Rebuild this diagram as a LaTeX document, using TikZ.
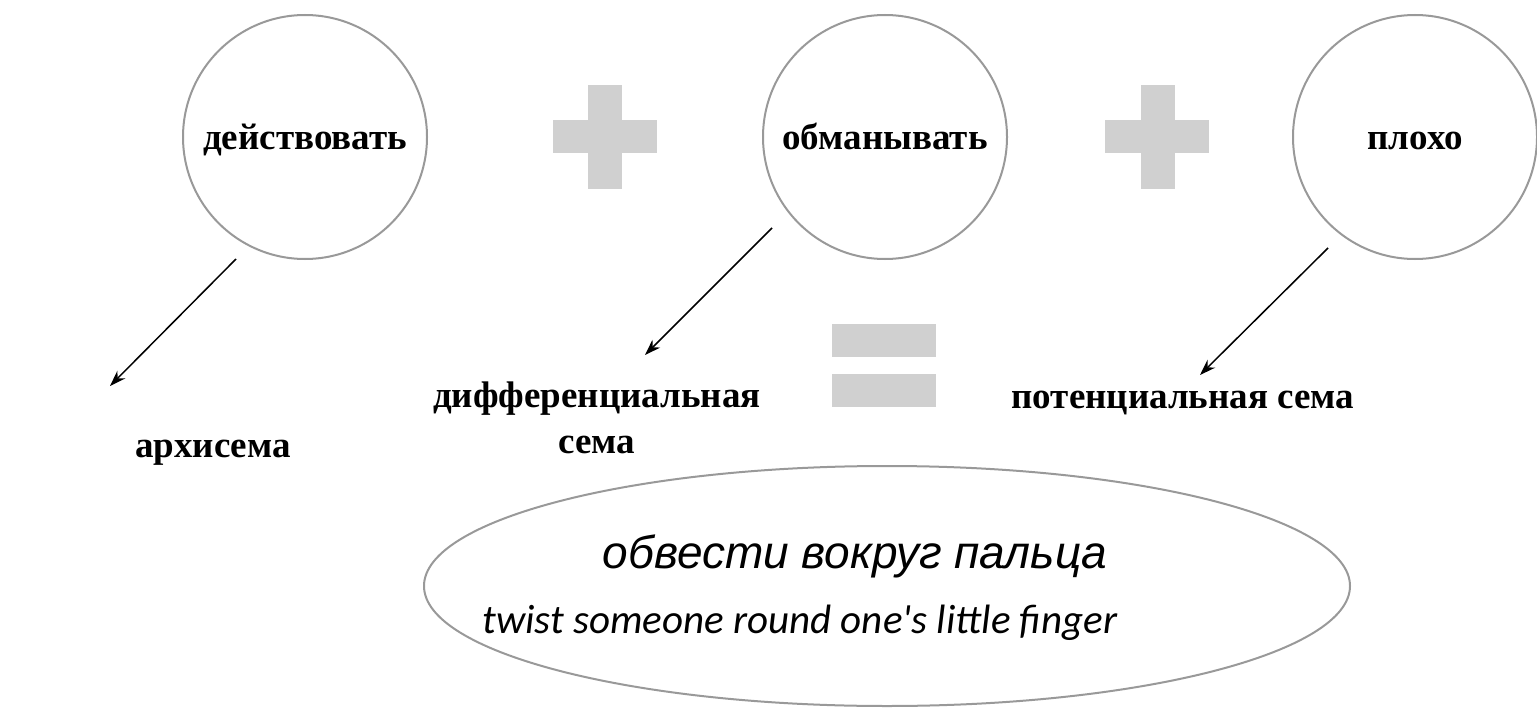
\documentclass[tikz,border=0pt]{standalone}
\usepackage{fontspec}
\setmainfont{Liberation Serif}
\newfontfamily\arialfont{Liberation Sans}
\newfontfamily\calfont{Carlito}
\usetikzlibrary{arrows.meta,shapes.geometric}
\definecolor{ringgray}{HTML}{999999}
\definecolor{signgray}{HTML}{D0D0D0}
\tikzset{
  ring/.style={circle, draw=ringgray, line width=2pt, minimum size=244pt, inner sep=0pt,
    text height=30pt, text depth=6pt,
    font=\fontsize{37}{44}\selectfont\bfseries},
  lbl/.style={anchor=base, inner sep=0pt, font=\fontsize{37}{44}\selectfont\bfseries},
  hbar/.style={fill=signgray, draw=none, minimum width=104pt, minimum height=33pt, inner sep=0pt},
  vbar/.style={fill=signgray, draw=none, minimum width=34pt, minimum height=104pt, inner sep=0pt},
  eqbar/.style={fill=signgray, draw=none, minimum width=104pt, minimum height=33pt, inner sep=0pt},
  arr/.style={draw=black, line width=1.5pt, -{Stealth[length=16pt,width=11pt]}},
  oval/.style={ellipse, draw=ringgray, line width=2pt, minimum width=926pt, minimum height=240pt, inner sep=0pt},
}
\begin{document}
\begin{tikzpicture}[x=1pt,y=-1pt]
\useasboundingbox (0,0) rectangle (1537,709);
% circles
\node[ring] (c1) at (305,137) {действовать};
\node[ring] (c2) at (885,137) {обманывать};
\node[ring] (c3) at (1415,137) {плохо};
% plus signs
\node[hbar] (p1h) at (605,136.5) {};
\node[vbar] (p1v) at (605,137) {};
\node[hbar] (p2h) at (1157,136.5) {};
\node[vbar] (p2v) at (1157.5,137) {};
% equals sign
\node[eqbar] (e1) at (884,340.5) {};
\node[eqbar] (e2) at (884,390) {};
% labels
\node[lbl] (l1) at (213,457) {архисема};
\node[lbl] (l2a) at (597,407) {дифференциальная};
\node[lbl] (l2b) at (597,453) {сема};
\node[lbl] (l3) at (1183,408) {потенциальная сема};
% arrows
\coordinate (a1s) at (236,259);
\coordinate (a1e) at (110,386);
\coordinate (a2s) at (772,228);
\coordinate (a2e) at (645,355);
\coordinate (a3s) at (1328,248);
\coordinate (a3e) at (1200,375);
\draw[arr] (a1s) -- (a1e);
\draw[arr] (a2s) -- (a2e);
\draw[arr] (a3s) -- (a3e);
% idiom oval
\node[oval] (idiom) at (887,586) {};
\node[anchor=base, inner sep=0pt, font=\arialfont\itshape\fontsize{46}{52}\selectfont] (ru) at (855,568) {обвести вокруг пальца};
\node[anchor=base, inner sep=0pt, font=\calfont\itshape\fontsize{41}{48}\selectfont] (en) at (800,633) {twist someone round one's little finger};
\end{tikzpicture}
\end{document}
